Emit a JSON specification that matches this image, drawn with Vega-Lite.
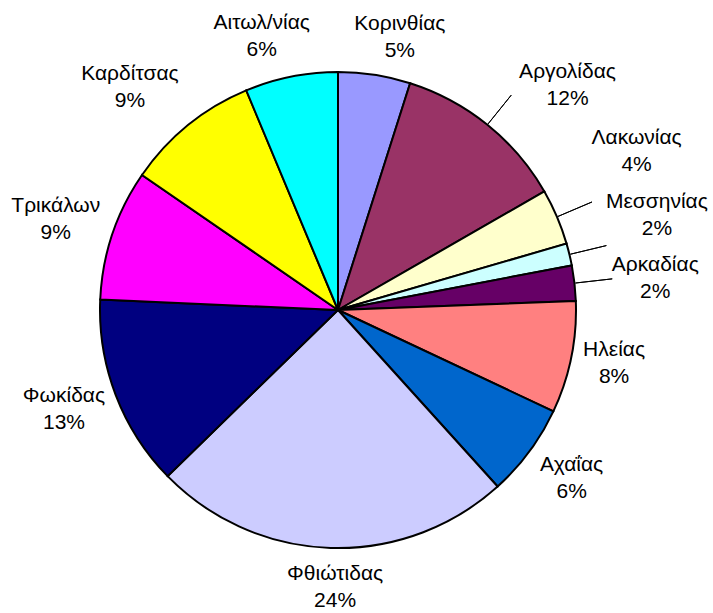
{
  "$schema": "https://vega.github.io/schema/vega-lite/v6.json",
  "width": 676,
  "height": 606,
  "autosize": {"type": "none"},
  "padding": {"left": 0, "top": 7, "right": 37, "bottom": 0},
  "background": "white",
  "config": {"view": {"stroke": null}, "font": "Liberation Sans", "text": {"fontSize": 21, "lineBreak": "\n", "lineHeight": 27, "color": "black", "baseline": "middle", "dy": -12}},
  "data": {
    "values": [
      {"order": 1, "region": "Κορινθίας", "share": 4.9, "color": "#9999FF"},
      {"order": 2, "region": "Αργολίδας", "share": 11.8, "color": "#993366"},
      {"order": 3, "region": "Λακωνίας", "share": 3.8, "color": "#FFFFCC"},
      {"order": 4, "region": "Μεσσηνίας", "share": 1.5, "color": "#CCFFFF"},
      {"order": 5, "region": "Αρκαδίας", "share": 2.4, "color": "#660066"},
      {"order": 6, "region": "Ηλείας", "share": 7.6, "color": "#FF8080"},
      {"order": 7, "region": "Αχαΐας", "share": 6.3, "color": "#0066CC"},
      {"order": 8, "region": "Φθιώτιδας", "share": 24.4, "color": "#CCCCFF"},
      {"order": 9, "region": "Φωκίδας", "share": 13.0, "color": "#000080"},
      {"order": 10, "region": "Τρικάλων", "share": 8.9, "color": "#FF00FF"},
      {"order": 11, "region": "Καρδίτσας", "share": 9.1, "color": "#FFFF00"},
      {"order": 12, "region": "Αιτωλ/νίας", "share": 6.3, "color": "#00FFFF"}
    ]
  },
  "transform": [
    {"calculate": "datum.region + '\\n' + format(datum.share / 100, '.0%')", "as": "label"},
    {"stack": "share", "groupby": [], "sort": [{"field": "order", "order": "ascending"}], "as": ["s0", "s1"]},
    {"calculate": "(datum.s0 + datum.s1) / 2", "as": "mid"}
  ],
  "layer": [
    {
      "mark": {"type": "arc", "outerRadius": 238, "stroke": "black", "strokeWidth": 2},
      "encoding": {
        "theta": {"field": "s0", "type": "quantitative", "stack": null, "scale": {"domain": [0, 100]}},
        "theta2": {"field": "s1"},
        "color": {"field": "color", "type": "nominal", "scale": null, "legend": null}
      }
    },
    {
      "transform": [{"filter": "indexof(['Αργολίδας','Λακωνίας','Μεσσηνίας','Αρκαδίας'], datum.region) >= 0"}],
      "mark": {"type": "arc", "radius": 276, "radius2": 239, "stroke": "black", "strokeWidth": 1, "fill": null},
      "encoding": {
        "theta": {"field": "mid", "type": "quantitative"},
        "theta2": {"field": "mid"}
      }
    },
    {
      "transform": [{"filter": "datum.region == 'Κορινθίας'"}],
      "mark": {"type": "text", "radius": 281, "thetaOffset": 0.068},
      "encoding": {"theta": {"field": "mid", "type": "quantitative"}, "text": {"field": "label"}}
    },
    {
      "transform": [{"filter": "datum.region == 'Αργολίδας'"}],
      "mark": {"type": "text", "radius": 322, "thetaOffset": 0.115},
      "encoding": {"theta": {"field": "mid", "type": "quantitative"}, "text": {"field": "label"}}
    },
    {
      "transform": [{"filter": "datum.region == 'Λακωνίας'"}],
      "mark": {"type": "text", "radius": 339, "thetaOffset": -0.091},
      "encoding": {"theta": {"field": "mid", "type": "quantitative"}, "text": {"field": "label"}}
    },
    {
      "transform": [{"filter": "datum.region == 'Μεσσηνίας'"}],
      "mark": {"type": "text", "radius": 333, "thetaOffset": -0.056},
      "encoding": {"theta": {"field": "mid", "type": "quantitative"}, "text": {"field": "label"}}
    },
    {
      "transform": [{"filter": "datum.region == 'Αρκαδίας'"}],
      "mark": {"type": "text", "radius": 319, "thetaOffset": 0.009},
      "encoding": {"theta": {"field": "mid", "type": "quantitative"}, "text": {"field": "label"}}
    },
    {
      "transform": [{"filter": "datum.region == 'Ηλείας'"}],
      "mark": {"type": "text", "radius": 281, "thetaOffset": -0.014},
      "encoding": {"theta": {"field": "mid", "type": "quantitative"}, "text": {"field": "label"}}
    },
    {
      "transform": [{"filter": "datum.region == 'Αχαΐας'"}],
      "mark": {"type": "text", "radius": 287, "thetaOffset": -0.018},
      "encoding": {"theta": {"field": "mid", "type": "quantitative"}, "text": {"field": "label"}}
    },
    {
      "transform": [{"filter": "datum.region == 'Φθιώτιδας'"}],
      "mark": {"type": "text", "radius": 276, "thetaOffset": -0.021},
      "encoding": {"theta": {"field": "mid", "type": "quantitative"}, "text": {"field": "label"}}
    },
    {
      "transform": [{"filter": "datum.region == 'Φωκίδας'"}],
      "mark": {"type": "text", "radius": 291, "thetaOffset": 0.021},
      "encoding": {"theta": {"field": "mid", "type": "quantitative"}, "text": {"field": "label"}}
    },
    {
      "transform": [{"filter": "datum.region == 'Τρικάλων'"}],
      "mark": {"type": "text", "radius": 297, "thetaOffset": -0.007},
      "encoding": {"theta": {"field": "mid", "type": "quantitative"}, "text": {"field": "label"}}
    },
    {
      "transform": [{"filter": "datum.region == 'Καρδίτσας'"}],
      "mark": {"type": "text", "radius": 306, "thetaOffset": -0.066},
      "encoding": {"theta": {"field": "mid", "type": "quantitative"}, "text": {"field": "label"}}
    },
    {
      "transform": [{"filter": "datum.region == 'Αιτωλ/νίας'"}],
      "mark": {"type": "text", "radius": 285, "thetaOffset": -0.073},
      "encoding": {"theta": {"field": "mid", "type": "quantitative"}, "text": {"field": "label"}}
    }
  ]
}
